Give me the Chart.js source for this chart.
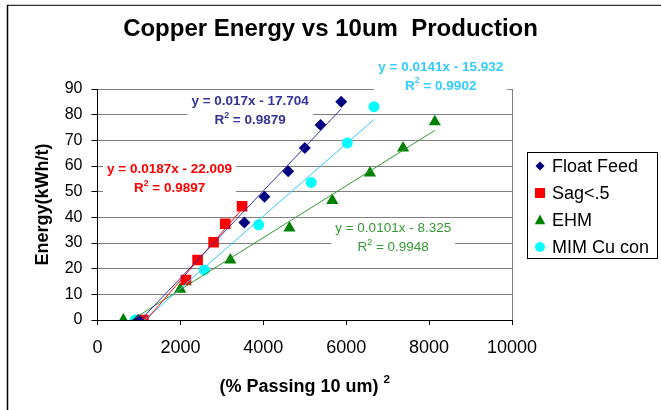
<!DOCTYPE html>
<html><head><meta charset="utf-8">
<script src="https://cdn.jsdelivr.net/npm/chart.js@4/dist/chart.umd.min.js"></script>
<style>html,body{margin:0;padding:0;background:#fff}#wrap{width:661px;height:410px;position:relative}</style>
</head><body><div id="wrap"><canvas id="c" width="661" height="410"></canvas></div>
<script>
// ---- data ----
const chartTitle = 'Copper Energy vs 10um  Production';
const xAxisTitle = '(% Passing 10 um) ';
const yAxisTitle = 'Energy(kWh/t)';
const seriesNames = ['Float Feed', 'Sag<.5', 'EHM', 'MIM Cu con'];

const floatFeedX = [980, 3543, 4027, 4600, 5002, 5381, 5881];
const floatFeedY = [0, 38, 48, 58, 67, 76, 85];
const sagX = [1108, 2133, 2415, 2801, 3083, 3487];
const sagY = [0, 15.6, 23.4, 30.3, 37.5, 44.3];
const ehmX = [624, 1995, 3204, 4631, 5664, 6574, 7372, 8138];
const ehmY = [0, 12, 23.4, 35.8, 46.6, 57.3, 67, 77.2];
const mimX = [907, 2576, 3889, 5156, 6026, 6670];
const mimY = [0, 19.5, 37.1, 53.6, 69, 83.1];

const trendSlopes = [0.017, 0.0187, 0.0101, 0.0141];
const trendIntercepts = [-17.704, -22.009, -8.325, -15.932];
const trendSlopeText = ['0.017', '0.0187', '0.0101', '0.0141'];
const trendInterceptText = ['17.704', '22.009', '8.325', '15.932'];
const trendR2Text = ['0.9879', '0.9897', '0.9948', '0.9902'];

const xTickValues = [0, 2000, 4000, 6000, 8000, 10000];
const yTickValues = [0, 10, 20, 30, 40, 50, 60, 70, 80, 90];

// ---- styles ----
const FONT = "'Liberation Sans', Arial, sans-serif";
const markerColors = ['#000080', '#FF0000', '#008000', '#00FFFF'];
const trendColors = ['#333399', '#FF0000', '#339933', '#33CCFF'];
const markerStyles = ['rectRot', 'rect', 'triangle', 'circle'];
const markerRadii = [6, 7.5, 7, 5.5];
const labelBold = [true, true, false, true];
const labelAnchors = [{x: 3682, y: 81.4}, {x: 1738, y: 55.0}, {x: 7134, y: 31.9}, {x: 8281, y: 94.9}];

const seriesX = [floatFeedX, sagX, ehmX, mimX];
const seriesY = [floatFeedY, sagY, ehmY, mimY];

const datasets = [];
seriesNames.forEach((name, i) => {
  datasets.push({
    label: name,
    data: seriesX[i].map((x, k) => ({x: x, y: seriesY[i][k]})),
    pointStyle: markerStyles[i],
    pointRadius: markerRadii[i],
    pointHoverRadius: markerRadii[i],
    backgroundColor: markerColors[i],
    borderColor: markerColors[i],
    pointBorderWidth: 0,
    showLine: false,
    order: 2
  });
});
seriesNames.forEach((name, i) => {
  const lo = Math.min(...seriesX[i]), hi = Math.max(...seriesX[i]);
  datasets.push({
    label: name + ' trend',
    data: [lo, hi].map(x => ({x: x, y: trendSlopes[i] * x + trendIntercepts[i]})),
    showLine: true,
    pointRadius: 0,
    borderColor: trendColors[i],
    borderWidth: 1,
    fill: false,
    order: 1
  });
});

function drawShape(ctx, style, x, y, r, color) {
  ctx.save();
  ctx.fillStyle = color;
  ctx.beginPath();
  if (style === 'rectRot') {
    ctx.moveTo(x - r, y); ctx.lineTo(x, y - r); ctx.lineTo(x + r, y); ctx.lineTo(x, y + r);
  } else if (style === 'rect') {
    ctx.rect(x - r, y - r, 2 * r, 2 * r);
  } else if (style === 'triangle') {
    ctx.moveTo(x, y - r); ctx.lineTo(x + r * 0.95, y + r * 0.75); ctx.lineTo(x - r * 0.95, y + r * 0.75);
  } else {
    ctx.arc(x, y, r, 0, Math.PI * 2);
  }
  ctx.closePath();
  ctx.fill();
  ctx.restore();
}

function drawSup(ctx, parts, cx, cy, size, weight, color) {
  ctx.save();
  ctx.fillStyle = color;
  ctx.textBaseline = 'middle';
  ctx.textAlign = 'left';
  let w = 0;
  parts.forEach(p => {
    ctx.font = weight + ' ' + (p.sup ? size * 0.65 : size) + 'px ' + FONT;
    p.w = ctx.measureText(p.t).width; w += p.w;
  });
  let x = cx - w / 2;
  parts.forEach(p => {
    ctx.font = weight + ' ' + (p.sup ? size * 0.65 : size) + 'px ' + FONT;
    ctx.fillText(p.t, x, p.sup ? cy - size * 0.38 : cy);
    x += p.w;
  });
  ctx.restore();
  return w;
}

const decor = {
  id: 'decor',
  beforeDraw(chart) {
    const ctx = chart.ctx;
    ctx.save();
    ctx.fillStyle = '#fff';
    ctx.fillRect(0, 0, chart.width, chart.height);
    ctx.strokeStyle = '#c8c8c8'; ctx.lineWidth = 1;
    ctx.beginPath(); ctx.moveTo(7, 4.5); ctx.lineTo(661, 4.5); ctx.stroke();
    ctx.strokeStyle = '#333'; ctx.lineWidth = 1;
    ctx.beginPath(); ctx.moveTo(7, 5.5); ctx.lineTo(661, 5.5); ctx.stroke();
    ctx.strokeStyle = '#000'; ctx.lineWidth = 1.5;
    ctx.beginPath(); ctx.moveTo(7.5, 5); ctx.lineTo(7.5, 410); ctx.stroke();
    ctx.restore();
  },
  afterDraw(chart) {
    const ctx = chart.ctx, a = chart.chartArea;
    const xs = chart.scales.x, ys = chart.scales.y;
    ctx.save();
    ctx.strokeStyle = '#808080'; ctx.lineWidth = 1;
    ctx.beginPath(); ctx.moveTo(Math.round(a.right) + 0.5, a.top); ctx.lineTo(Math.round(a.right) + 0.5, a.bottom); ctx.stroke();

    ctx.fillStyle = '#000';
    ctx.font = 'bold 24px ' + FONT;
    ctx.textAlign = 'center'; ctx.textBaseline = 'middle';
    ctx.fillText(chartTitle, 330.5, 29);

    drawSup(ctx, [{t: xAxisTitle}, {t: '2', sup: true}], (a.left + a.right) / 2, 387, 18, 'bold', '#000');

    ctx.save();
    ctx.translate(43, (a.top + a.bottom) / 2);
    ctx.rotate(-Math.PI / 2);
    ctx.font = 'bold 18px ' + FONT;
    ctx.fillStyle = '#000';
    ctx.textAlign = 'center'; ctx.textBaseline = 'middle';
    ctx.fillText(yAxisTitle, 0, 0);
    ctx.restore();

    seriesNames.forEach((n, i) => {
      const cx = xs.getPixelForValue(labelAnchors[i].x);
      const cy = ys.getPixelForValue(labelAnchors[i].y);
      const weight = labelBold[i] ? 'bold' : 'normal';
      const size = 13.5;
      const line1 = 'y = ' + trendSlopeText[i] + 'x - ' + trendInterceptText[i];
      ctx.font = weight + ' ' + size + 'px ' + FONT;
      const w1 = ctx.measureText(line1).width;
      const bw = w1 + 8, bh = 40;
      ctx.fillStyle = '#fff';
      ctx.fillRect(cx - bw / 2, cy - bh / 2, bw, bh);
      ctx.fillStyle = trendColors[i];
      ctx.textAlign = 'center'; ctx.textBaseline = 'middle';
      ctx.fillText(line1, cx, cy - 9.5);
      drawSup(ctx, [{t: 'R'}, {t: '2', sup: true}, {t: ' = ' + trendR2Text[i]}], cx, cy + 9.5, size, weight, trendColors[i]);
    });

    ctx.strokeStyle = '#000'; ctx.lineWidth = 1;
    ctx.strokeRect(527.5, 152.5, 130, 106);
    const legR = [4.5, 5, 5.5, 5];
    seriesNames.forEach((n, i) => {
      const y = 166 + i * 27;
      drawShape(ctx, markerStyles[i], 540, y, legR[i], markerColors[i]);
      ctx.fillStyle = '#000';
      ctx.font = '18px ' + FONT;
      ctx.textAlign = 'left'; ctx.textBaseline = 'middle';
      ctx.fillText(n, 552, y + 1);
    });
    ctx.restore();
  }
};

new Chart(document.getElementById('c'), {
  type: 'scatter',
  data: {datasets: datasets},
  options: {
    responsive: false,
    animation: false,
    devicePixelRatio: 1,
    layout: {padding: {top: 89, right: 149, bottom: 0, left: 0}},
    plugins: {legend: {display: false}, title: {display: false}, tooltip: {enabled: false}},
    scales: {
      x: {
        type: 'linear', min: 0, max: 10000,
        afterBuildTicks: s => { s.ticks = xTickValues.map(v => ({value: v})); },
        afterFit: s => { s.height = 90; },
        grid: {drawOnChartArea: false, drawTicks: true, tickLength: 5, tickColor: '#000'},
        border: {color: '#000', width: 1},
        ticks: {color: '#000', font: {family: FONT, size: 18}, padding: 12, maxRotation: 0, autoSkip: false,
                callback: v => String(v)}
      },
      y: {
        type: 'linear', min: 0, max: 90,
        afterBuildTicks: s => { s.ticks = yTickValues.map(v => ({value: v})); },
        afterFit: s => { s.width = 97.5; },
        grid: {color: '#808080', lineWidth: 1, drawTicks: true, tickLength: 6, tickColor: '#000'},
        border: {color: '#000', width: 1},
        ticks: {color: '#000', font: {family: FONT, size: 16}, padding: 9, autoSkip: false,
                callback: v => String(v)}
      }
    }
  },
  plugins: [decor]
});
</script>
</body></html>
